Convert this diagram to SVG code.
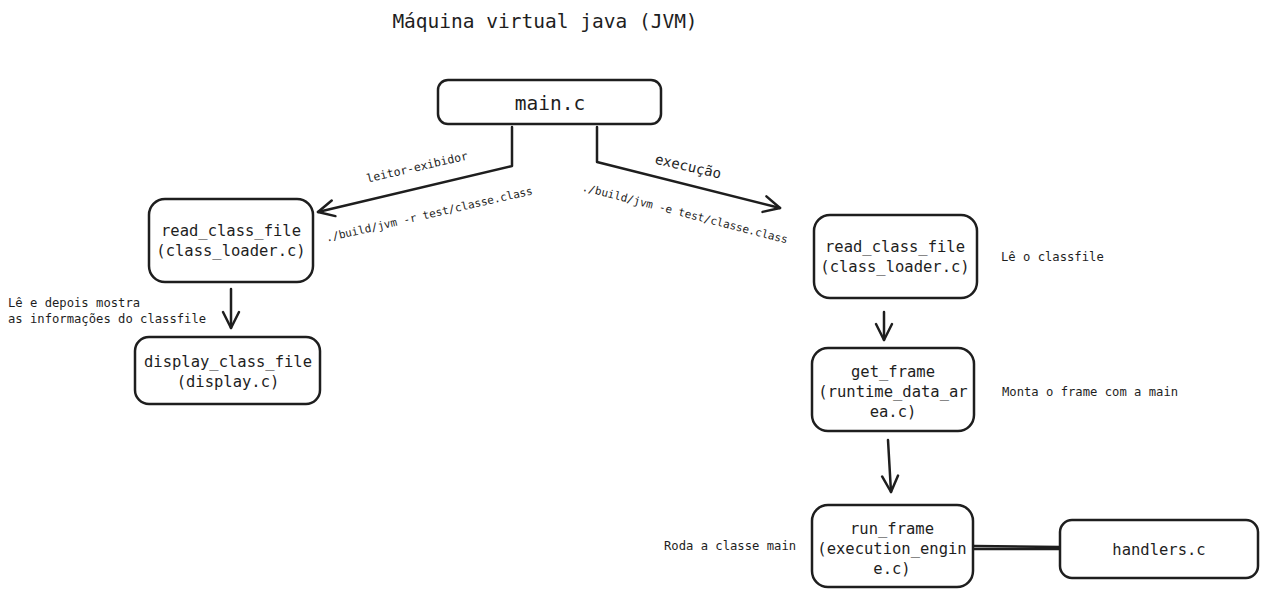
<svg xmlns="http://www.w3.org/2000/svg" width="1269" height="598" viewBox="0 0 1269 598">
<defs>
<style>
.box{fill:#fff;stroke:#1e1e1e;stroke-width:2.5;}
.t{font-family:"DejaVu Sans Mono","Liberation Mono",monospace;fill:#1e1e1e;}
.n{font-size:15.5px;text-anchor:middle;}
.s{font-size:12.2px;}
.c{fill:none;stroke:#1e1e1e;stroke-width:2.5;stroke-linecap:round;stroke-linejoin:round;}
</style>
<marker id="ah" viewBox="0 0 20 20" refX="18" refY="10" markerWidth="20" markerHeight="20" markerUnits="userSpaceOnUse" orient="auto">
<path d="M2,2 L18,10 L2,18" fill="none" stroke="#1e1e1e" stroke-width="2.5" stroke-linecap="round" stroke-linejoin="round"/>
</marker>
</defs>
<rect width="1269" height="598" fill="#fff"/>
<text class="t" x="545" y="28" font-size="19.5" text-anchor="middle">Máquina virtual java (JVM)</text>

<g id="connectors">
<path class="c" d="M512,127 L512,166 L318,212" marker-end="url(#ah)"/>
<path class="c" d="M597,127 L597,162 L780,208" marker-end="url(#ah)"/>
<path class="c" d="M231,289 L231,328" marker-end="url(#ah)"/>
<path class="c" d="M884,312 L884,340" marker-end="url(#ah)"/>
<path class="c" d="M888,440 L891,492" marker-end="url(#ah)"/>
<path class="c" d="M974,546 L1060,547"/>
<path class="c" d="M974,549 L1060,549" stroke-width="1.5"/>
</g>

<g id="lbl-leitor"><text class="t" font-size="11.5" transform="translate(418,171) rotate(-13)" text-anchor="middle">leitor-exibidor</text></g>
<g id="lbl-r"><text class="t" font-size="11" transform="translate(430,218) rotate(-13)" text-anchor="middle">./build/jvm -r test/classe.class</text></g>
<g id="lbl-exec"><text class="t" font-size="14" transform="translate(687,171) rotate(13)" text-anchor="middle">execução</text></g>
<g id="lbl-e"><text class="t" font-size="11" transform="translate(684,217) rotate(14.5)" text-anchor="middle">./build/jvm -e test/classe.class</text></g>

<g id="main">
<rect class="box" x="438" y="80" width="223" height="44" rx="10"/>
<text class="t" x="550" y="110" font-size="19.5" text-anchor="middle">main.c</text>
</g>
<g id="read-left">
<rect class="box" x="149" y="199" width="164" height="83" rx="16"/>
<text class="t n" x="231" y="236">read_class_file</text>
<text class="t n" x="231" y="256">(class_loader.c)</text>
</g>
<g id="display">
<rect class="box" x="135" y="337" width="185" height="67" rx="14"/>
<text class="t n" x="228" y="367">display_class_file</text>
<text class="t n" x="228" y="387">(display.c)</text>
</g>
<g id="read-right">
<rect class="box" x="814" y="215" width="163" height="83" rx="16"/>
<text class="t n" x="895" y="252">read_class_file</text>
<text class="t n" x="895" y="272">(class_loader.c)</text>
</g>
<g id="get-frame">
<rect class="box" x="812" y="348" width="162" height="83" rx="16"/>
<text class="t n" x="893" y="377">get_frame</text>
<text class="t n" x="893" y="397">(runtime_data_ar</text>
<text class="t n" x="893" y="417">ea.c)</text>
</g>
<g id="run-frame">
<rect class="box" x="812" y="505" width="161" height="82" rx="16"/>
<text class="t n" x="892" y="534">run_frame</text>
<text class="t n" x="892" y="554">(execution_engin</text>
<text class="t n" x="892" y="574">e.c)</text>
</g>
<g id="handlers">
<rect class="box" x="1060" y="520" width="198" height="58" rx="12"/>
<text class="t n" x="1159" y="555">handlers.c</text>
</g>

<g id="notes">
<text class="t s" x="8" y="307">Lê e depois mostra</text>
<text class="t s" x="8" y="323">as informações do classfile</text>
<text class="t s" x="1001" y="261">Lê o classfile</text>
<text class="t s" x="1002" y="396">Monta o frame com a main</text>
<text class="t s" x="664" y="550">Roda a classe main</text>
</g>
</svg>
